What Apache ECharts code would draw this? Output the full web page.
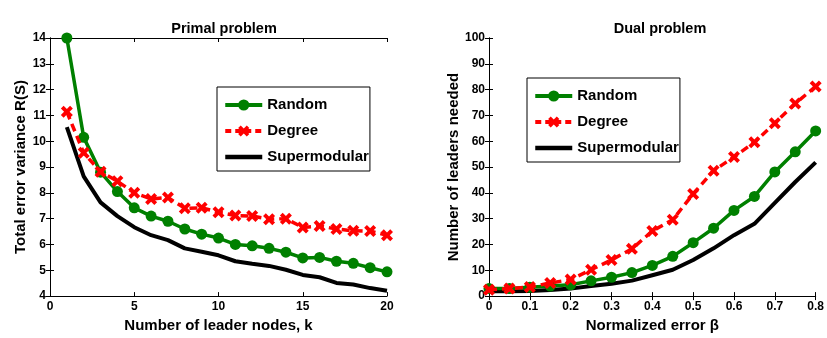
<!DOCTYPE html>
<html>
<head>
<meta charset="utf-8">
<script src="https://cdn.jsdelivr.net/npm/echarts@6/dist/echarts.min.js"></script>
<style>html,body{margin:0;padding:0;background:#fff}#c{width:827px;height:338px}</style>
</head>
<body>
<div id="c"></div>
<script>
// Primal problem
const kValues = [1,2,3,4,5,6,7,8,9,10,11,12,13,14,15,16,17,18,19,20];
const primalRandom = [14.0,10.15,8.8,8.05,7.42,7.1,6.9,6.6,6.4,6.25,6.0,5.95,5.85,5.7,5.48,5.5,5.35,5.27,5.1,4.94];
const primalDegree = [11.14,9.55,8.82,8.45,8.0,7.76,7.82,7.4,7.42,7.25,7.12,7.1,6.98,7.0,6.66,6.72,6.6,6.53,6.52,6.36];
const primalSuper = [10.55,8.64,7.63,7.1,6.67,6.36,6.17,5.85,5.72,5.58,5.35,5.25,5.17,5.02,4.82,4.73,4.51,4.45,4.31,4.21];
// Dual problem
const betaValues = [0,0.05,0.1,0.15,0.2,0.25,0.3,0.35,0.4,0.45,0.5,0.55,0.6,0.65,0.7,0.75,0.8];
const dualRandom = [2.9,2.9,3.4,3.9,4.4,5.9,7.3,9.1,11.9,15.4,20.7,26.3,33.2,38.6,48.1,55.9,64.0];
const dualDegree = [2.5,2.9,3.5,5.1,6.4,10.2,14.0,18.3,25.2,29.6,39.6,48.6,53.9,59.6,67.0,74.6,81.2];
const dualSuper = [1.9,1.9,2.0,2.4,2.9,3.9,4.8,6.0,8.1,10.2,14.0,18.5,23.6,28.0,36.1,44.2,51.8];
const seriesNames = ['Random','Degree','Supermodular'];
const titles = ['Primal problem','Dual problem'];
const xNames = ['Number of leader nodes, k','Normalized error \u03b2'];
const yNames = ['Total error variance R(S)','Number of leaders needed'];

const FONT = '"Liberation Sans", Arial, Helvetica, sans-serif';
const GREEN = '#008000', RED = '#ff0000', BLACK = '#000000';
const XMARK = 'path://M2.3,0 L5,2.7 L7.7,0 L10,2.3 L7.3,5 L10,7.7 L7.7,10 L5,7.3 L2.3,10 L0,7.7 L2.7,5 L0,2.3 Z';

function pairs(xs, ys){ return xs.map((x,i)=>[x, ys[i]]); }

const tickLabel = {fontFamily: FONT, fontWeight: 'bold', fontSize: 12, color: '#000'};
const axisLine = {show: true, lineStyle: {color: '#000', width: 1}};
const axisTick = {show: true, inside: true, length: 4, lineStyle: {color: '#000', width: 1}};
const nameStyle = {fontFamily: FONT, fontWeight: 'bold', fontSize: 15, color: '#000'};

function xAxes(gi, min, max, interval, name){
  return [
    {gridIndex: gi, type: 'value', min, max, interval, position: 'bottom',
     axisLine, axisTick, splitLine: {show: false},
     axisLabel: Object.assign({margin: 5}, tickLabel),
     name, nameLocation: 'middle', nameGap: 17, nameTextStyle: nameStyle},
    {gridIndex: gi, type: 'value', min, max, interval, position: 'top',
     axisLine, axisTick, splitLine: {show: false}, axisLabel: {show: false}}
  ];
}
function yAxes(gi, min, max, interval, name, gap){
  return [
    {gridIndex: gi, type: 'value', min, max, interval, position: 'left',
     axisLine, axisTick, splitLine: {show: false},
     axisLabel: Object.assign({margin: 4}, tickLabel),
     name, nameLocation: 'middle', nameGap: gap, nameTextStyle: nameStyle},
    {gridIndex: gi, type: 'value', min, max, interval, position: 'right',
     axisLine, axisTick, splitLine: {show: false}, axisLabel: {show: false}}
  ];
}

function makeSeries(xi, yi, xs, rand, deg, sup){
  return [
    {name: seriesNames[2], type: 'line', xAxisIndex: xi, yAxisIndex: yi, data: pairs(xs, sup),
     symbol: 'none', lineStyle: {color: BLACK, width: 4}, itemStyle: {color: BLACK}, z: 2},
    {name: seriesNames[0], type: 'line', xAxisIndex: xi, yAxisIndex: yi, data: pairs(xs, rand),
     symbol: 'circle', symbolSize: 11, lineStyle: {color: GREEN, width: 3.5}, itemStyle: {color: GREEN}, z: 3},
    {name: seriesNames[1], type: 'line', xAxisIndex: xi, yAxisIndex: yi, data: pairs(xs, deg),
     symbol: XMARK, symbolSize: 12, lineStyle: {color: RED, width: 3.5, type: [8,5]}, itemStyle: {color: RED}, z: 4}
  ];
}

function legendAt(left, top){
  return {
    data: [
      {name: seriesNames[0], lineStyle: {width: 4}},
      {name: seriesNames[1], lineStyle: {width: 4, type: [6,4]}},
      {name: seriesNames[2], itemStyle: {opacity: 0}, lineStyle: {width: 4.5}}
    ],
    left, top, orient: 'vertical',
    backgroundColor: '#fff', borderColor: '#000', borderWidth: 1,
    padding: [10, 1, 6, 6], itemGap: 10, itemWidth: 37, itemHeight: 14,
    textStyle: {fontFamily: FONT, fontWeight: 'bold', fontSize: 15, color: '#000', lineHeight: 16}
  };
}

const chart = echarts.init(document.getElementById('c'), null, {renderer: 'canvas'});
const option = {
  animation: false,
  backgroundColor: '#fff',
  title: [
    {text: titles[0], left: 219, top: 16, textAlign: 'center',
     textStyle: {fontFamily: FONT, fontWeight: 'bold', fontSize: 14.5, color: '#000'}},
    {text: titles[1], left: 655, top: 16, textAlign: 'center',
     textStyle: {fontFamily: FONT, fontWeight: 'bold', fontSize: 14.5, color: '#000'}}
  ],
  grid: [
    {left: 50, top: 38, width: 337, height: 266},
    {left: 489, top: 38, width: 331, height: 266}
  ],
  xAxis: [].concat(xAxes(0, 0, 20, 5, xNames[0]), xAxes(1, 0, 0.8, 0.1, xNames[1])),
  yAxis: [].concat(yAxes(0, 4, 14, 1, yNames[0], 22), yAxes(1, 0, 100, 10, yNames[1], 27)),
  legend: [legendAt(217, 87), legendAt(527, 78)],
  series: [].concat(
    makeSeries(0, 0, kValues, primalRandom, primalDegree, primalSuper),
    makeSeries(2, 2, betaValues, dualRandom, dualDegree, dualSuper)
  )
};
chart.setOption(option);
</script>
</body>
</html>
